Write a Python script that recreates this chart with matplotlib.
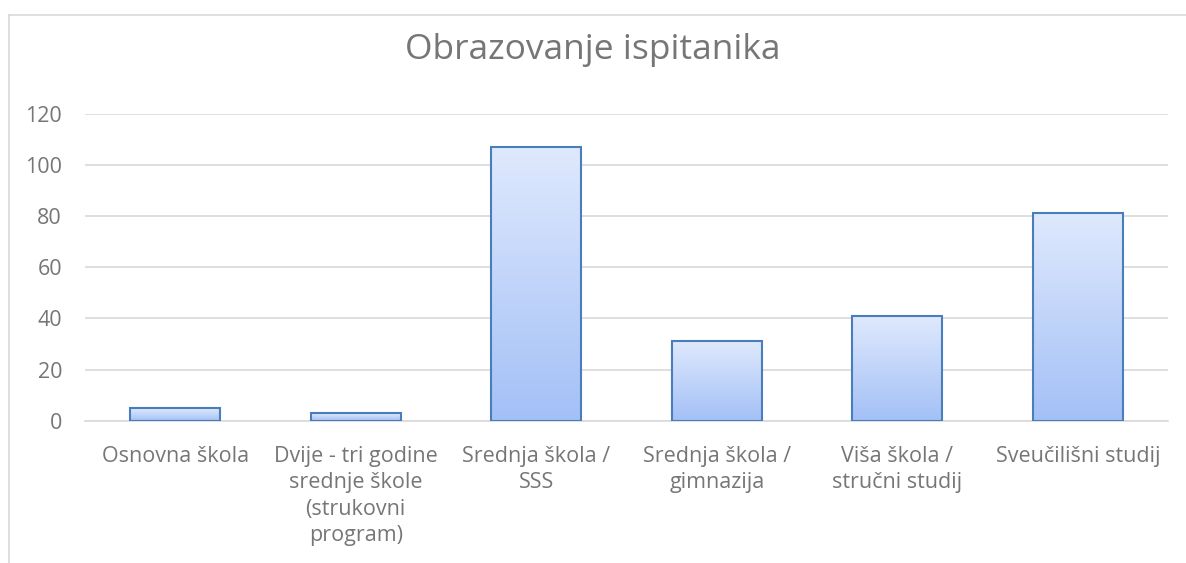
import numpy as np
import matplotlib.pyplot as plt
from matplotlib.colors import LinearSegmentedColormap

# data
categories = ['Osnovna škola', 'Dvije - tri godine\nsrednje škole\n(strukovni\nprogram)',
              'Srednja škola /\nSSS', 'Srednja škola /\ngimnazija',
              'Viša škola /\nstručni studij', 'Sveučilišni studij']
values = [5, 3, 107, 31, 41, 81]
yticks = [0, 20, 40, 60, 80, 100, 120]

plt.rcParams['font.family'] = ['Open Sans', 'DejaVu Sans']
text_color = '#767676'

fig = plt.figure(figsize=(11.86, 5.63), dpi=100)
ax = fig.add_axes([85 / 1186, 1 - 420.7 / 563, 1083 / 1186, (420.7 - 113.5) / 563])

x = np.arange(len(categories))
bars = ax.bar(x, values, width=0.5, color='none', edgecolor='#4a7ebb', linewidth=1.5, zorder=3)

# gradient fill inside each bar
cmap = LinearSegmentedColormap.from_list('grad', ['#a3c0f6', '#dfe9fd'])
grad = np.linspace(0, 1, 256).reshape(-1, 1)
for b in bars:
    x0, w, h = b.get_x(), b.get_width(), b.get_height()
    ax.imshow(grad, cmap=cmap, origin='lower', aspect='auto',
              extent=[x0, x0 + w, 0, h], zorder=2)

ax.set_xlim(-0.5, len(categories) - 0.5)
ax.set_ylim(0, 120)
ax.set_yticks(yticks)
ax.set_xticks(x)
ax.set_xticklabels(categories, fontsize=15.5, color=text_color, linespacing=1.35, va='top')
ax.tick_params(axis='y', labelsize=15.5, labelcolor=text_color, length=0, pad=16.5)
ax.tick_params(axis='x', length=0, pad=18)
ax.yaxis.grid(True, color='#d9d9d9', linewidth=1.2, zorder=0)
ax.set_axisbelow(True)
for s in ['top', 'right', 'left']:
    ax.spines[s].set_visible(False)
ax.spines['bottom'].set_color('#d9d9d9')
ax.spines['bottom'].set_linewidth(1.2)

fig.text(0.5, 1 - 50 / 563, 'Obrazovanje ispitanika', ha='center', va='center',
         fontsize=25.5, color=text_color)

# outer chart frame
fig.add_artist(plt.Line2D([8.5 / 1186, 8.5 / 1186], [0, 1 - 15 / 563], color='#d9d9d9', linewidth=1.2,
                          transform=fig.transFigure))
fig.add_artist(plt.Line2D([8.5 / 1186, 1], [1 - 15 / 563, 1 - 15 / 563], color='#d9d9d9', linewidth=1.2,
                          transform=fig.transFigure))

fig.savefig('out.png', dpi=100)
